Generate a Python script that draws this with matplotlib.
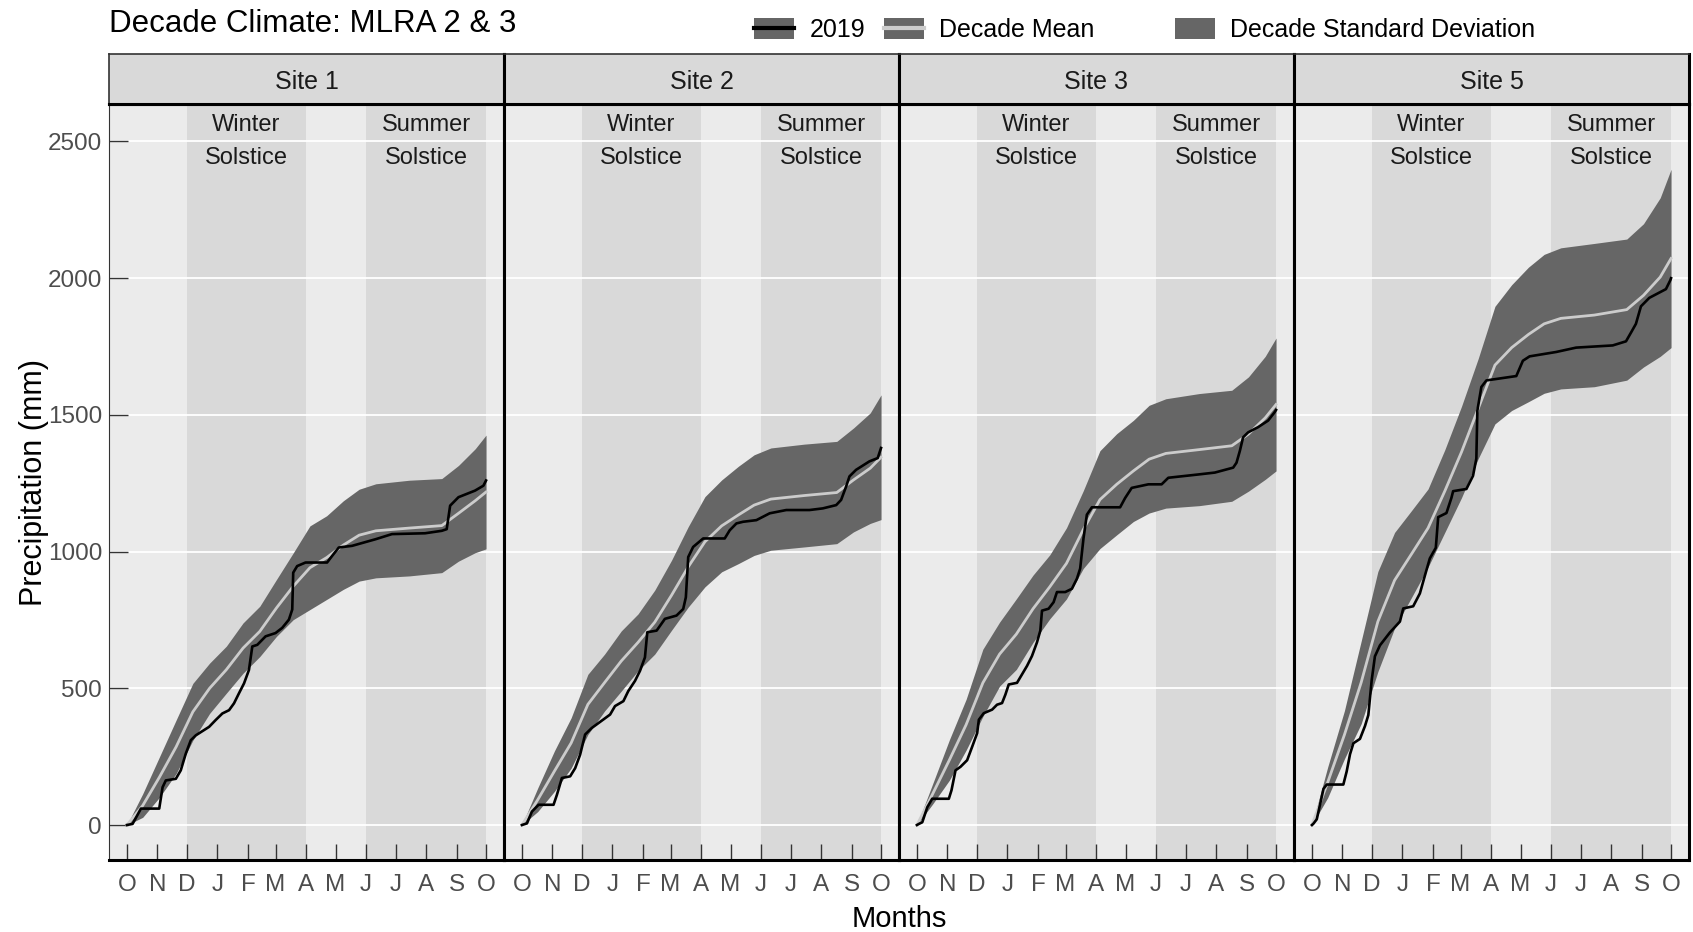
import numpy as np
import matplotlib
matplotlib.use('Agg')
import matplotlib.pyplot as plt
from matplotlib.patches import Patch
from matplotlib.lines import Line2D

plt.rcParams['font.family'] = ['Liberation Sans', 'DejaVu Sans']

# ── Data ─────────────────────────────────────────────────────────────────────
SITES = ['Site 1', 'Site 2', 'Site 3', 'Site 5']
MONTH_LABELS = ['O', 'N', 'D', 'J', 'F', 'M', 'A', 'M', 'J', 'J', 'A', 'S', 'O']
MONTH_DAYS = [0, 31, 61, 92, 123, 151, 182, 212, 243, 273, 304, 335, 365]  # days since Oct 1
WINTER = (61, 182)    # Dec 1 - Apr 1
SUMMER = (243, 365)   # Jun 1 - Oct 1

# decade mean / sd, sampled along the water year
decade_days = [0, 16, 33, 50, 67, 84, 101, 118, 135, 152, 169, 186, 203, 220,
               236, 253, 287, 320, 337, 354, 365]
mean_site1 = [0, 71, 175, 286, 414, 500, 568, 647, 708, 794, 873, 941, 978, 1024,
              1060, 1076, 1086, 1095, 1140, 1186, 1218]
sd_site1 = [0, 43, 74, 98, 104, 92, 86, 92, 92, 104, 122, 153, 153, 162,
            168, 172, 175, 172, 175, 190, 208]
mean_site2 = [0, 92, 197, 300, 441, 521, 600, 668, 742, 840, 944, 1036, 1094, 1134,
              1170, 1192, 1205, 1216, 1262, 1305, 1345]
sd_site2 = [0, 43, 74, 92, 110, 104, 110, 104, 117, 128, 147, 165, 168, 178,
            184, 187, 188, 187, 190, 202, 228]
mean_site3 = [0, 114, 238, 367, 520, 625, 698, 791, 871, 957, 1080, 1190, 1246, 1295,
              1338, 1359, 1373, 1387, 1430, 1489, 1538]
sd_site3 = [0, 37, 74, 93, 123, 117, 129, 123, 117, 130, 142, 179, 185, 185,
            197, 200, 205, 203, 209, 225, 243]
mean_site5 = [0, 156, 330, 521, 744, 895, 990, 1086, 1221, 1364, 1523, 1682, 1746, 1794,
              1833, 1853, 1865, 1885, 1937, 2004, 2072]
sd_site5 = [0, 56, 88, 151, 183, 175, 159, 143, 151, 167, 183, 215, 230, 246,
            254, 258, 262, 258, 262, 290, 326]

# 2019 cumulative precipitation
days_2019_site1 = [0, 5.7, 14.2, 32.8, 36.2, 39.5, 49.7, 54.7, 59.8, 64.9, 70, 83.5, 90.2, 97,
                   103.8, 108.8, 113.9, 119, 124, 127.4, 132.5, 140.9, 151, 157.8, 164.6, 168,
                   169, 173, 181.5, 203.4, 208.5, 215.3, 228.8, 252.5, 269.4, 303, 320, 325,
                   328.5, 337, 353.8, 362.3, 365]
prcp_2019_site1 = [0, 4, 60, 60, 138, 163, 169, 200, 261, 310, 328, 359, 384, 408,
                   420, 445, 482, 518, 567, 653, 659, 690, 702, 721, 751, 788,
                   923, 947, 960, 960, 984, 1015, 1021, 1045, 1064, 1067, 1076, 1082,
                   1168, 1199, 1223, 1241, 1260]
days_2019_site2 = [0, 5.1, 10.1, 16.9, 32.1, 35.5, 40.6, 49, 54.1, 59.1, 64.2, 71, 82.8, 89.6,
                   94.6, 103.1, 108.1, 114.9, 120, 125, 127.4, 136.9, 145.3, 157.1, 163.9,
                   166.6, 169, 174, 184.2, 206.1, 211.2, 218, 224.7, 238.3, 251.8, 268.7,
                   292.3, 305.8, 319.4, 324.4, 329.5, 332.9, 339.6, 353.2, 361.6, 365]
prcp_2019_site2 = [0, 6, 49, 74, 74, 110, 172, 178, 208, 257, 331, 355, 386, 404,
                   435, 453, 490, 527, 564, 613, 705, 711, 754, 766, 790,
                   833, 980, 1017, 1048, 1048, 1078, 1103, 1109, 1115, 1140, 1152,
                   1152, 1158, 1170, 1189, 1238, 1275, 1299, 1330, 1342, 1379]
days_2019_site3 = [0, 2, 5.4, 10.5, 15.5, 32.4, 35.1, 39.2, 44.3, 51, 56.1, 61.2, 62.9, 67.9,
                   76.4, 81.4, 86.5, 89.9, 93.3, 101.7, 106.8, 111.9, 116.9, 122, 125.4,
                   127.1, 133.8, 138.9, 142.3, 150.7, 157.5, 162.6, 165.9, 169.3, 172.7,
                   177.8, 206.5, 211.6, 218.3, 235.2, 248.7, 255.5, 285.9, 302.8, 321.4,
                   324.8, 328.2, 331.5, 336.6, 346.7, 356.9, 363.6, 365]
prcp_2019_site3 = [0, 4, 10, 65, 96, 96, 127, 200, 213, 237, 286, 336, 385, 409,
                   422, 440, 446, 477, 514, 520, 551, 582, 618, 668, 711,
                   784, 791, 815, 852, 852, 864, 901, 938, 1049, 1135,
                   1162, 1162, 1196, 1233, 1246, 1246, 1270, 1282, 1289, 1307,
                   1325, 1368, 1418, 1436, 1455, 1479, 1510, 1518]
days_2019_site5 = [0, 1.5, 4.9, 11.7, 15, 31.9, 35.3, 38.7, 42.1, 48.8, 53.9, 57.3, 60.7, 64,
                   69.1, 79.2, 89.4, 92.8, 102.9, 109.7, 114.7, 119.8, 125.9, 128.3, 136.7,
                   141.8, 143.5, 157, 163.7, 167.1, 168.1, 172.2, 177.3, 207.7, 214.4, 221.2,
                   248.2, 268.5, 305.7, 319.2, 324.3, 329.3, 334.4, 342.9, 359.8, 364.2, 365]
prcp_2019_site5 = [0, 5, 21, 132, 148, 148, 196, 259, 299, 315, 362, 402, 529, 617,
                   657, 704, 744, 792, 800, 847, 911, 975, 1014, 1126, 1141,
                   1197, 1221, 1229, 1277, 1340, 1515, 1602, 1626, 1642, 1698, 1714,
                   1730, 1746, 1754, 1769, 1801, 1833, 1897, 1928, 1960, 1992, 2000]

decade_mean = [mean_site1, mean_site2, mean_site3, mean_site5]
decade_sd = [sd_site1, sd_site2, sd_site3, sd_site5]
days_2019 = [days_2019_site1, days_2019_site2, days_2019_site3, days_2019_site5]
prcp_2019 = [prcp_2019_site1, prcp_2019_site2, prcp_2019_site3, prcp_2019_site5]

# ── Layout (pixel based) ─────────────────────────────────────────────────────
W, H = 1693, 932
fig = plt.figure(figsize=(W / 100, H / 100), dpi=100)

def fx(x):
    return x / W

def fy(y):
    return 1 - y / H

LEFT0, PW = 109, 395
TOP, STRIP_TOP, BOTTOM = 104, 54, 860
BAND_C = '#666666'
BG, SHADE = '#EBEBEB', '#D9D9D9'

for i, site in enumerate(SITES):
    left = LEFT0 + i * PW
    ax = fig.add_axes([fx(left), fy(BOTTOM), PW / W, (BOTTOM - TOP) / H])
    ax.set_facecolor(BG)
    ax.axvspan(*WINTER, color=SHADE, lw=0, zorder=0)
    ax.axvspan(*SUMMER, color=SHADE, lw=0, zorder=0)
    ax.set_axisbelow(True)
    ax.yaxis.grid(True, color='white', lw=1.3)

    d = np.array(decade_days)
    m = np.array(decade_mean[i])
    s = np.array(decade_sd[i])
    ax.fill_between(d, m - s, m + s, color=BAND_C, lw=0, zorder=2)
    ax.plot(d, m, color='#CCCCCC', lw=2, zorder=3)
    ax.plot(days_2019[i], prcp_2019[i], color='black', lw=1.9, zorder=4)

    ax.text(sum(WINTER) / 2, 2500, 'Winter\nSolstice', ha='center', va='center',
            fontsize=17, color='#1A1A1A', linespacing=1.65, zorder=5)
    ax.text(sum(SUMMER) / 2, 2500, 'Summer\nSolstice', ha='center', va='center',
            fontsize=17, color='#1A1A1A', linespacing=1.65, zorder=5)

    ax.set_xlim(-18.25, 383.25)
    ax.set_ylim(-128, 2637)
    ax.set_xticks(MONTH_DAYS)
    ax.set_xticklabels(MONTH_LABELS)
    ax.set_yticks([0, 500, 1000, 1500, 2000, 2500])
    ax.tick_params(axis='x', direction='in', length=11.5, width=1, color='#333333',
                   labelsize=17.5, labelcolor='#4D4D4D', pad=10)
    if i == 0:
        ax.tick_params(axis='y', direction='in', length=14, width=1, color='#333333',
                       labelsize=17.5, labelcolor='#4D4D4D', pad=5)
        ax.spines['left'].set_color('#333333')
        ax.spines['left'].set_linewidth(0.8)
    else:
        ax.tick_params(axis='y', length=0, labelleft=False)
        ax.spines['left'].set_color('black')
        ax.spines['left'].set_linewidth(2.2)
    for side in ['right', 'bottom', 'top']:
        ax.spines[side].set_color('black')
        ax.spines[side].set_linewidth(2.2)

    # facet strip
    st = fig.add_axes([fx(left), fy(TOP), PW / W, (TOP - STRIP_TOP) / H])
    st.set_facecolor(SHADE)
    st.set_xticks([]); st.set_yticks([])
    st.spines['top'].set_color('#333333'); st.spines['top'].set_linewidth(1.2)
    st.spines['bottom'].set_color('black'); st.spines['bottom'].set_linewidth(2.2)
    st.spines['right'].set_color('black'); st.spines['right'].set_linewidth(2.2)
    if i == 0:
        st.spines['left'].set_color('#333333'); st.spines['left'].set_linewidth(1.2)
    else:
        st.spines['left'].set_color('black'); st.spines['left'].set_linewidth(2.2)
    st.text(0.5, 0.44, site, transform=st.transAxes, ha='center', va='center',
            fontsize=18, color='#1A1A1A')

# ── Titles, axis labels ──────────────────────────────────────────────────────
fig.text(fx(109), fy(24), 'Decade Climate: MLRA 2 & 3', ha='left', va='center',
         fontsize=22.5, color='black')
fig.text(fx(LEFT0 + 2 * PW), fy(919), 'Months', ha='center', va='center',
         fontsize=21, color='black')
fig.text(fx(34), fy((TOP + BOTTOM) / 2), 'Precipitation (mm)', ha='center', va='center',
         rotation=90, fontsize=22, color='black')

# ── Legends ──────────────────────────────────────────────────────────────────
h2019 = (Patch(facecolor=BAND_C, edgecolor='none'), Line2D([], [], color='black', lw=3))
hmean = (Patch(facecolor=BAND_C, edgecolor='none'), Line2D([], [], color='#CCCCCC', lw=3))
hsd = Patch(facecolor=BAND_C, edgecolor='none')
common = dict(frameon=False, fontsize=18, handlelength=1.6, handleheight=0.88,
              handletextpad=0.62, columnspacing=0.75, borderpad=0, borderaxespad=0,
              loc='center left')
fig.legend([h2019, hmean], ['2019', 'Decade Mean'], ncol=2,
           bbox_to_anchor=(fx(754), fy(30)), **common)
fig.legend([hsd], ['Decade Standard Deviation'],
           bbox_to_anchor=(fx(1175), fy(30)), **common)

plt.savefig('out.png', dpi=100)
plt.close()
